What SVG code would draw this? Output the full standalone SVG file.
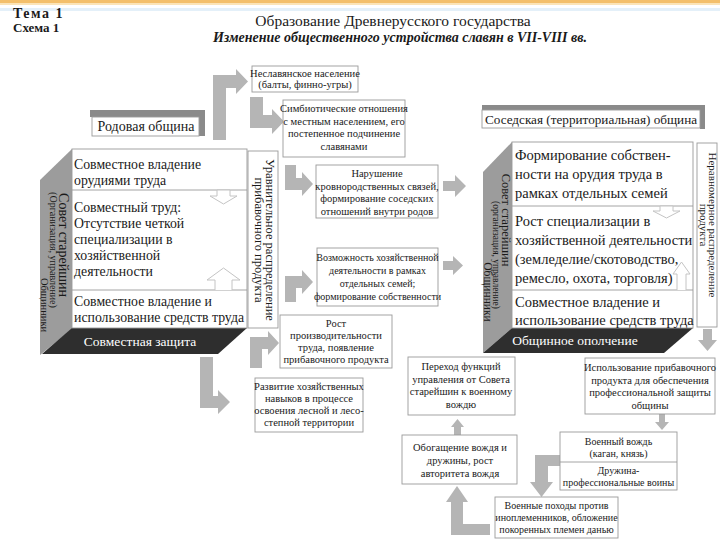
<svg xmlns="http://www.w3.org/2000/svg" width="720" height="540" viewBox="0 0 720 540">
<style>
text{font-family:"Liberation Serif","Times New Roman",serif;fill:#1a1a1a}
.b{fill:#fff;stroke:#9a9a9a;stroke-width:0.9}
.s{font-size:10.5px;text-anchor:middle}
.t{font-size:10px;text-anchor:middle}
.big{font-size:13.8px}
.bigr{font-size:14.5px}
.arr{fill:#b5b5b5}
.hol{fill:#fff;stroke:#c4c4c4;stroke-width:1}
.side{fill:#9c9c9c}
.dark{fill:#2e2e2e}
.lab{text-anchor:middle}
.w{fill:#fff}
</style>
<rect x="0" y="0" width="720" height="540" fill="#fff"/>
<rect x="0" y="0" width="720" height="3" fill="#f3bf6b"/>
<rect x="0" y="3" width="720" height="2" fill="#fbe4b8"/>
<rect x="0" y="8" width="720" height="3" fill="#e4f0f9"/>

<g id="header">
<text x="13" y="18" font-size="14" font-weight="bold" letter-spacing="1.5">Тема 1</text>
<text x="13" y="32" font-size="13" font-weight="bold">Схема 1</text>
<text x="393" y="26" font-size="15.5" text-anchor="middle">Образование Древнерусского государства</text>
<text x="400" y="42" font-size="14" font-weight="bold" font-style="italic" text-anchor="middle">Изменение общественного устройства славян в VII-VIII вв.</text>
</g>

<g id="connectors">
<path class="arr" d="M213,140 L213,75 L236,75 L236,69 L248,81.5 L236,94 L236,88 L226,88 L226,140 Z"/>
<path class="arr" d="M250,97 L263,97 L263,115 L272,115 L272,109 L284,121.5 L272,134 L272,128 L250,128 Z"/>
<path class="arr" d="M285,165 L296,165 L296,178 L302,178 L302,172 L313,184 L302,196 L302,190 L285,190 Z"/>
<path class="arr" d="M285,302 L285,276 L302,276 L302,270 L313,282 L302,294 L302,288 L296,288 L296,302 Z"/>
<path class="arr" d="M250,368 L250,337 L268,337 L268,331 L279,343 L268,355 L268,349 L262,349 L262,368 Z"/>
<path class="arr" d="M200,357 L213,357 L213,396 L218,396 L218,390 L230,402 L218,414 L218,408 L200,408 Z"/>
<path class="arr" d="M443,181 L455,181 L455,175 L466,186 L455,197 L455,191 L443,191 Z"/>
<path class="arr" d="M443,261 L453,261 L453,256 L463,265.5 L453,275 L453,270 L443,270 Z"/>
<path class="arr" d="M703,329 L712,329 L712,340 L717,340 L707.5,351 L698,340 L703,340 Z"/>
<path class="arr" d="M454,435 L461,435 L461,427 L464,427 L457.5,419 L451,427 L454,427 Z"/>
<path class="arr" d="M659,414 L665,414 L665,422 L669,422 L662,430 L655,422 L659,422 Z"/>
<path class="arr" d="M560,455 L560,466 L548,466 L548,482 L553,482 L541.5,497 L530,482 L535,482 L535,455 Z"/>
<path class="arr" d="M490,524 L463,524 L463,502 L468,502 L457,486 L446,502 L451,502 L451,535 L490,535 Z"/>
</g>

<g id="left-block">
<polygon class="side" points="40,180 72,149 72,329 40,355"/>
<polygon class="dark" points="72,328 247,328 218,354 42,354"/>
<text class="lab w" x="140" y="346" font-size="13.5">Совместная защита</text>
<rect class="b" x="72" y="149" width="175" height="179"/>
<line x1="72" y1="190" x2="247" y2="190" stroke="#9a9a9a" stroke-width="0.9"/>
<line x1="72" y1="290" x2="247" y2="290" stroke="#9a9a9a" stroke-width="0.9"/>
<path class="hol" d="M217,190 L230,190 L230,196 L237,196 L223.5,204 L210,196 L217,196 Z"/>
<path class="hol" d="M215,290 L215,280 L207,280 L223.5,268 L240,280 L232,280 L232,290"/>
<g class="big">
<text x="74" y="169">Совместное владение</text>
<text x="74" y="185">орудиями труда</text>
<text x="74" y="212">Совместный труд:</text>
<text x="74" y="228">Отсутствие четкой</text>
<text x="74" y="244">специализации в</text>
<text x="74" y="260">хозяйственной</text>
<text x="74" y="276">деятельности</text>
<text x="74" y="306">Совместное владение и</text>
<text x="74" y="322">использование средств труда</text>
</g>
<text transform="translate(59,245) rotate(90)" font-size="14" text-anchor="middle">Совет старейшин</text>
<text transform="translate(50,250) rotate(90)" font-size="10" text-anchor="middle">(Организация, управление)</text>
<text transform="translate(41,305) rotate(90)" font-size="10.5" text-anchor="middle">Общинники</text>
</g>

<g id="rodovaya">
<rect x="90" y="110" width="110" height="7" fill="#8a8a8a"/>
<rect x="199" y="110" width="6" height="26" fill="#8a8a8a"/>
<rect class="b" x="92" y="117" width="107" height="19"/>
<text class="lab" x="146" y="131" font-size="14">Родовая община</text>
</g>

<g id="uravn">
<rect class="b" x="248" y="151" width="30" height="177"/>
<text transform="translate(266,240) rotate(90)" font-size="12.5" text-anchor="middle">Уравнительное распределение</text>
<text transform="translate(255,240) rotate(90)" font-size="12.5" text-anchor="middle">прибавочного продукта</text>
</g>

<g id="box-neslav">
<rect class="b" x="252" y="66" width="106" height="26"/>
<text class="s" x="305" y="77">Неславянское население</text>
<text class="s" x="305" y="88">(балты, финно-угры)</text>
</g>
<g id="box-simb">
<rect class="b" x="283" y="100" width="122" height="57"/>
<text class="s" x="344" y="112">Симбиотические отношения</text>
<text class="s" x="344" y="124.5">с местным населением, его</text>
<text class="s" x="344" y="137">постепенное подчинение</text>
<text class="s" x="344" y="149.5">славянами</text>
</g>
<g id="box-narush">
<rect class="b" x="316" y="165" width="122" height="53"/>
<text class="s" x="377" y="177">Нарушение</text>
<text class="s" x="377" y="189.5">кровнородственных связей,</text>
<text class="s" x="377" y="202">формирование соседских</text>
<text class="s" x="377" y="214.5">отношений внутри родов</text>
</g>
<g id="box-vozm">
<rect class="b" x="317" y="248" width="121" height="58"/>
<text class="t" x="377.5" y="261">Возможность хозяйственной</text>
<text class="t" x="377.5" y="274">деятельности в рамках</text>
<text class="t" x="377.5" y="287">отдельных семей;</text>
<text class="t" x="377.5" y="300">формирование собственности</text>
</g>
<g id="box-rost">
<rect class="b" x="280" y="315" width="112" height="53"/>
<text class="s" x="336" y="327">Рост</text>
<text class="s" x="336" y="339">производительности</text>
<text class="s" x="336" y="351">труда, появление</text>
<text class="s" x="336" y="363">прибавочного продукта</text>
</g>
<g id="box-razv">
<rect class="b" x="255" y="378" width="108" height="54"/>
<text class="s" x="309" y="390">Развитие хозяйственных</text>
<text class="s" x="309" y="402">навыков в процессе</text>
<text class="s" x="309" y="414">освоения лесной и лесо-</text>
<text class="s" x="309" y="426">степной территории</text>
</g>

<g id="right-block">
<polygon class="side" points="483,172 512,142 512,328 483,353"/>
<polygon class="dark" points="512,328 693,328 664,353 483,353"/>
<text class="lab w" x="575" y="345" font-size="13.5">Общинное ополчение</text>
<rect class="b" x="512" y="142" width="181" height="186"/>
<line x1="512" y1="206" x2="693" y2="206" stroke="#9a9a9a" stroke-width="0.9"/>
<line x1="512" y1="290" x2="693" y2="290" stroke="#9a9a9a" stroke-width="0.9"/>
<path class="hol" d="M660,206 L673,206 L673,211 L680,211 L666.5,218 L653,211 L660,211 Z"/>
<path class="hol" d="M677,290 L677,274 L673,274 L681.5,262 L690,274 L686,274 L686,290"/>
<g class="bigr">
<text x="515" y="160">Формирование собствен-</text>
<text x="515" y="179">ности на орудия труда в</text>
<text x="515" y="198">рамках отдельных семей</text>
<text x="515" y="226">Рост специализации в</text>
<text x="515" y="245">хозяйственной деятельности</text>
<text x="515" y="264">(земледелие/скотоводство,</text>
<text x="515" y="283">ремесло, охота, торговля)</text>
<text x="515" y="307">Совместное владение и</text>
<text x="515" y="325">использование средств труда</text>
</g>
<text transform="translate(502,220) rotate(90)" font-size="12.5" text-anchor="middle">Совет старейшин</text>
<text transform="translate(493,255) rotate(90)" font-size="9.5" text-anchor="middle">(организация, управление)</text>
<text transform="translate(484,292) rotate(90)" font-size="11.5" text-anchor="middle">Общинники</text>
</g>

<g id="sosed">
<rect x="482" y="105" width="222" height="6" fill="#8a8a8a"/>
<rect x="700" y="105" width="5" height="24" fill="#8a8a8a"/>
<rect class="b" x="482" y="110" width="218" height="18"/>
<text class="lab" x="591" y="124" font-size="13.2">Соседская (территориальная) община</text>
</g>

<g id="nerav">
<rect class="b" x="697" y="143" width="20" height="184"/>
<text transform="translate(708.5,225) rotate(90)" font-size="11" text-anchor="middle">Неравномерное распределение</text>
<text transform="translate(699.5,225) rotate(90)" font-size="11" text-anchor="middle">продукта</text>
</g>

<g id="box-ispolz">
<rect class="b" x="585" y="358" width="130" height="56"/>
<text class="s" x="650" y="371">Использование прибавочного</text>
<text class="s" x="650" y="383.5">продукта для обеспечения</text>
<text class="s" x="650" y="396">профессиональной защиты</text>
<text class="s" x="650" y="408.5">общины</text>
</g>
<g id="box-perehod">
<rect class="b" x="408" y="357" width="107" height="58"/>
<text class="s" x="461" y="370">Переход функций</text>
<text class="s" x="461" y="382.5">управления от Совета</text>
<text class="s" x="461" y="395">старейшин к военному</text>
<text class="s" x="461" y="407.5">вождю</text>
</g>
<g id="box-obogash">
<rect class="b" x="402" y="435" width="115" height="49"/>
<text class="s" x="460" y="451">Обогащение вождя и</text>
<text class="s" x="460" y="464">дружины, рост</text>
<text class="s" x="460" y="477">авторитета вождя</text>
</g>
<g id="box-vozhd">
<rect class="b" x="560" y="432" width="117" height="58"/>
<line x1="560" y1="462" x2="677" y2="462" stroke="#9a9a9a" stroke-width="0.9"/>
<text class="t" x="618.5" y="445">Военный вождь</text>
<text class="t" x="618.5" y="457">(каган, князь)</text>
<text class="t" x="618.5" y="474">Дружина-</text>
<text class="t" x="618.5" y="486">профессиональные воины</text>
</g>
<g id="box-pohody">
<rect class="b" x="495" y="497" width="123" height="41"/>
<text class="t" x="556.5" y="509">Военные походы против</text>
<text class="t" x="556.5" y="521">иноплеменников, обложение</text>
<text class="t" x="556.5" y="533">покоренных племен данью</text>
</g>
</svg>
